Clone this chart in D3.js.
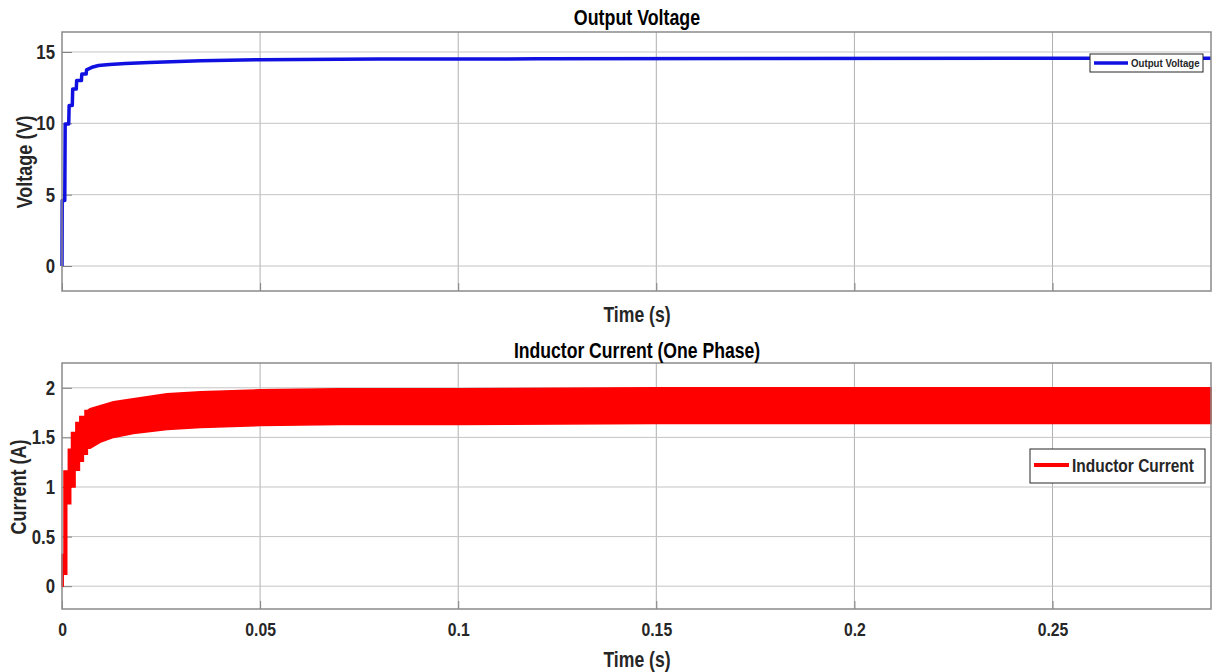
<!DOCTYPE html>
<html lang="en">
<head>
  <meta charset="UTF-8">
  <title>Output Voltage / Inductor Current</title>
  <style>
    body { margin: 0; background: #fff; }
    svg text { font-family: "Liberation Sans", Arial, sans-serif; font-weight: bold; fill: #262626; }
  </style>
</head>
<body>
  <script src="https://cdn.jsdelivr.net/npm/d3@7/dist/d3.min.js"></script>
  <script>
    var width = 1214;
    var height = 672;

    // output voltage (repeated times = vertical steps)
    var vTime = [0, 0.00005, 0.0007, 0.0008, 0.0017, 0.0018, 0.0026, 0.0027, 0.0036, 0.0037, 0.0049, 0.005, 0.0061, 0.0062, 0.0078, 0.0092, 0.012, 0.016, 0.022, 0.035, 0.05, 0.08, 0.12, 0.18, 0.29];
    var vVolt = [0, 4.6, 4.6, 9.95, 9.95, 11.25, 11.25, 12.4, 12.4, 13.0, 13.0, 13.45, 13.45, 13.75, 13.95, 14.05, 14.13, 14.2, 14.27, 14.39, 14.46, 14.5, 14.52, 14.55, 14.56];

    // inductor current ripple band: max / min envelope
    var iTime = [0, 0.0003, 0.0003, 0.0005, 0.0005, 0.0012, 0.0012, 0.0016, 0.0016, 0.0022, 0.0022, 0.0024, 0.0024, 0.0033, 0.0033, 0.0035, 0.0035, 0.0044, 0.0044, 0.0045, 0.0045, 0.0054, 0.0054, 0.0058, 0.0058, 0.0064, 0.0064, 0.0071, 0.0096, 0.013, 0.018, 0.0265, 0.035, 0.05, 0.07, 0.1, 0.15, 0.2, 0.29];
    var iMax = [0.32, 0.32, 0.32, 0.32, 1.16, 1.16, 1.16, 1.16, 1.38, 1.38, 1.38, 1.38, 1.55, 1.55, 1.55, 1.55, 1.65, 1.65, 1.65, 1.65, 1.71, 1.71, 1.71, 1.71, 1.77, 1.77, 1.77, 1.79, 1.82, 1.86, 1.89, 1.94, 1.96, 1.98, 1.99, 1.99, 2.0, 2.0, 2.0];
    var iMin = [0, 0, 0.12, 0.12, 0.12, 0.12, 0.83, 0.83, 0.83, 0.83, 1.0, 1.0, 1.0, 1.0, 1.17, 1.17, 1.17, 1.17, 1.26, 1.26, 1.26, 1.26, 1.33, 1.33, 1.33, 1.33, 1.39, 1.39, 1.45, 1.5, 1.54, 1.58, 1.6, 1.62, 1.63, 1.63, 1.64, 1.64, 1.64];

    var xTicks = [0, 0.05, 0.1, 0.15, 0.2, 0.25];
    var vTicks = [0, 5, 10, 15];
    var iTicks = [0, 0.5, 1, 1.5, 2];

    var svg = d3.select("body")
      .append("svg")
      .attr("width", width)
      .attr("height", height);

    var x = d3.scaleLinear().domain([0, 0.29]).range([62, 1211]);
    var yV = d3.scaleLinear().domain([-1.75, 16.4]).range([291, 32]);
    var yI = d3.scaleLinear().domain([-0.23, 2.25]).range([609, 363]);

    // the source font is a narrow one, so squeeze Liberation Sans sideways
    function squeeze(sel, s) {
      sel.each(function () {
        var t = d3.select(this);
        var xx = +t.attr("x") || 0;
        t.attr("transform", "translate(" + xx * (1 - s) + ",0) scale(" + s + ",1)");
      });
    }

    function label(px, py, size, s, txt, rot) {
      return svg.append("text")
        .attr("transform", "translate(" + px + "," + py + ")" + (rot ? " rotate(-90)" : "") + " scale(" + s + ",1)")
        .attr("text-anchor", "middle")
        .style("font-size", size + "px")
        .text(txt);
    }

    function drawAxes(y, yTicks, showXLabels) {
      var g = svg.append("g");
      var top = y.range()[1], bottom = y.range()[0];
      var left = x.range()[0], right = x.range()[1];

      g.selectAll(".gx").data(xTicks.slice(1)).enter().append("line")
        .attr("x1", function (d) { return x(d); }).attr("x2", function (d) { return x(d); })
        .attr("y1", top).attr("y2", bottom)
        .style("stroke", "#b0b0b0").style("stroke-width", 1);
      g.selectAll(".gy").data(yTicks).enter().append("line")
        .attr("x1", left).attr("x2", right)
        .attr("y1", function (d) { return y(d); }).attr("y2", function (d) { return y(d); })
        .style("stroke", "#c4c4c4").style("stroke-width", 1);

      var yAxis = d3.axisLeft(y).tickValues(yTicks).tickSize(-10).tickPadding(7)
        .tickFormat(d3.format("~g"));
      var ga = g.append("g").attr("transform", "translate(" + left + ",0)").call(yAxis);
      ga.select(".domain").remove();
      ga.selectAll("line").style("stroke", "#808080");
      ga.selectAll("text").style("font-size", "20px").style("fill", "#262626")
        .attr("font-family", null).call(squeeze, 0.84);

      var xAxis = d3.axisBottom(x).tickValues(xTicks).tickSize(-8).tickPadding(14)
        .tickFormat(showXLabels ? d3.format("~g") : "");
      var gb = g.append("g").attr("transform", "translate(0," + bottom + ")").call(xAxis);
      gb.select(".domain").remove();
      gb.selectAll("line").style("stroke", "#808080");
      gb.selectAll("text").style("font-size", "19px").style("fill", "#262626")
        .attr("font-family", null).call(squeeze, 0.83);

      return g;
    }

    function drawBox(y) {
      svg.append("rect")
        .attr("x", x.range()[0]).attr("y", y.range()[1])
        .attr("width", x.range()[1] - x.range()[0])
        .attr("height", y.range()[0] - y.range()[1])
        .style("fill", "none").style("stroke", "#8a8a8a").style("stroke-width", 1.5);
    }

    // ---- top: output voltage ----
    drawAxes(yV, vTicks, false);
    var vData = vTime.map(function (t, i) { return [t, vVolt[i]]; });
    svg.append("path")
      .datum(vData)
      .attr("d", d3.line().x(function (d) { return x(d[0]); }).y(function (d) { return yV(d[1]); }))
      .style("fill", "none").style("stroke", "#1010e0").style("stroke-width", 3.5)
      .style("stroke-linejoin", "round");
    drawBox(yV);

    label(637, 25, 22, 0.81, "Output Voltage").style("fill", "#000");
    label(637, 322, 22, 0.8, "Time (s)");
    label(32, 162, 22, 0.82, "Voltage (V)", true);

    // legend
    svg.append("rect").attr("x", 1090).attr("y", 54).attr("width", 113).attr("height", 18)
      .style("fill", "#fff").style("stroke", "#262626").style("stroke-width", 1);
    svg.append("line").attr("x1", 1094).attr("x2", 1128).attr("y1", 63).attr("y2", 63)
      .style("stroke", "#1010e0").style("stroke-width", 3.5);
    svg.append("text").attr("transform", "translate(1131,67) scale(0.88,1)")
      .style("font-size", "11px").text("Output Voltage");

    // ---- bottom: inductor current ----
    drawAxes(yI, iTicks, true);
    var iData = iTime.map(function (t, i) { return [t, iMin[i], iMax[i]]; });
    svg.append("path")
      .datum(iData)
      .attr("d", d3.area().x(function (d) { return x(d[0]); })
        .y0(function (d) { return yI(d[1]); }).y1(function (d) { return yI(d[2]); }))
      .style("fill", "#ff0000").style("stroke", "#ff0000").style("stroke-width", 1.5);
    drawBox(yI);

    label(637, 358, 22, 0.8, "Inductor Current (One Phase)").style("fill", "#000");
    label(637, 667, 22, 0.8, "Time (s)");
    label(26, 487, 22, 0.82, "Current (A)", true);

    svg.append("rect").attr("x", 1030).attr("y", 449).attr("width", 175).attr("height", 34)
      .style("fill", "#fff").style("stroke", "#262626").style("stroke-width", 1);
    svg.append("line").attr("x1", 1034).attr("x2", 1069).attr("y1", 465).attr("y2", 465)
      .style("stroke", "#ff0000").style("stroke-width", 4);
    svg.append("text").attr("transform", "translate(1072,472) scale(0.86,1)")
      .style("font-size", "18px").text("Inductor Current");
  </script>
</body>
</html>
